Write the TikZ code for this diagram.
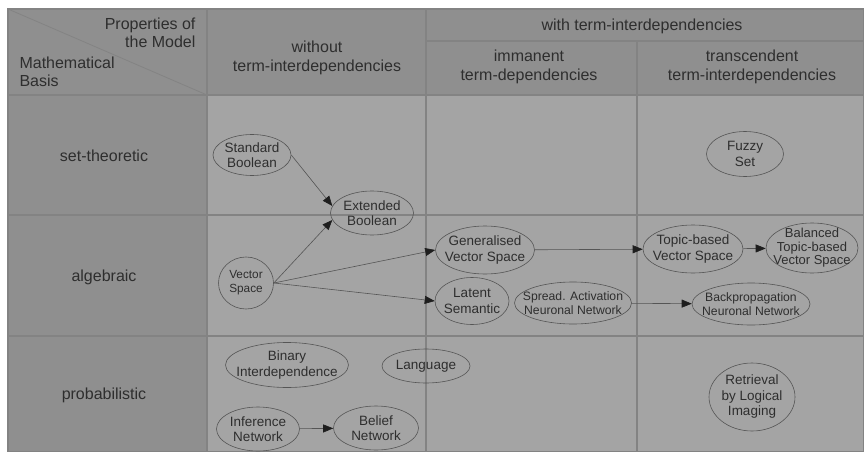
\documentclass[tikz,border=0pt]{standalone}
\usepackage{fontspec}
\setmainfont{Liberation Sans}
\usetikzlibrary{arrows.meta}
\usetikzlibrary{shapes.geometric}
\definecolor{headgray}{HTML}{8F8F8F}
\definecolor{bodygray}{HTML}{A4A4A4}
\definecolor{gridgray}{HTML}{838383}
\definecolor{inkgray}{HTML}{2E2E2E}
\definecolor{rimgray}{HTML}{555555}
\definecolor{tipgray}{HTML}{1E1E1E}
\newcommand{\hdfont}{\fontsize{16}{18.5}\selectfont}
\newcommand{\mdfont}{\fontsize{13.5}{15.5}\selectfont}
\newcommand{\smfont}{\fontsize{12.2}{14}\selectfont}
\newcommand{\vsfont}{\fontsize{11.8}{14}\selectfont}
\newcommand{\balfont}{\fontsize{13}{13.5}\selectfont}

\begin{document}
\begin{tikzpicture}[x=1pt,y=-1pt,
  model/.style 2 args={ellipse,draw=rimgray,line width=0.6pt,text=inkgray,
    font=\mdfont,align=center,inner xsep=-14pt,inner ysep=-9pt,
    minimum width=#1,minimum height=#2},
  headtext/.style={text=inkgray,font=\hdfont,align=center},
  dep/.style={draw=rimgray,line width=0.6pt,
    -{Triangle[length=10pt,width=8pt,color=tipgray]}}]
\useasboundingbox (0,0) rectangle (864,452);
% table
\fill[bodygray] (8,9) rectangle (864,452);
\fill[headgray] (8,9) rectangle (864,95);
\fill[headgray] (8,95) rectangle (207,452);
\draw[gridgray,line width=1.2pt] (8,9) rectangle (864,452);
\draw[gridgray,line width=1.2pt] (8,95) -- (864,95);
\draw[gridgray,line width=1.2pt] (8,215) -- (864,215);
\draw[gridgray,line width=1.2pt] (8,336) -- (864,336);
\draw[gridgray,line width=1.2pt] (207,9) -- (207,452);
\draw[gridgray,line width=1.2pt] (426,9) -- (426,452);
\draw[gridgray,line width=1.2pt] (637,41) -- (637,452);
\draw[gridgray,line width=1.2pt] (426,41) -- (864,41);
\draw[gridgray,line width=0.8pt] (8,9) -- (207,95);
% headings
\node[headtext,align=right,anchor=east] (props) at (199,33) {Properties of\\the Model};
\node[headtext,align=left,anchor=west] (basis) at (16,72) {Mathematical\\Basis};
\node[headtext] (without) at (317,58) {without\\term-interdependencies};
\node[headtext] (with) at (642,26) {with term-interdependencies};
\node[headtext] (imman) at (529,67) {immanent\\term-dependencies};
\node[headtext] (transc) at (752,67) {transcendent\\term-interdependencies};
\node[headtext] (settheo) at (104,156) {set-theoretic};
\node[headtext] (algeb) at (104,277) {algebraic};
\node[headtext] (probab) at (104,395) {probabilistic};
% models
\node[model={78}{41}] (std) at (252,155) {Standard\\Boolean};
\node[model={83}{44}] (ext) at (372,213) {Extended\\Boolean};
\node[model={77}{45}] (fuzzy) at (745,154) {Fuzzy\\Set};
\node[model={55}{52},font=\vsfont] (vs) at (246,283) {Vector\\Space};
\node[model={99}{48}] (gvs) at (485,250) {Generalised\\Vector Space};
\node[model={74}{47}] (lsi) at (472,301) {Latent\\Semantic};
\node[model={117}{42},font=\smfont] (spread) at (573,303) {Spread. Activation\\Neuronal Network};
\node[model={100}{48}] (topic) at (693,249) {Topic-based\\Vector Space};
\node[model={92}{50},font=\balfont] (bal) at (812,248) {Balanced\\Topic-based\\Vector Space};
\node[model={118}{42},font=\smfont] (backprop) at (751,304) {Backpropagation\\Neuronal Network};
\node[model={123}{45}] (bir) at (287,365) {Binary\\Interdependence};
\node[model={88}{34}] (lang) at (426,366) {Language};
\node[model={83}{44}] (infnet) at (258,429) {Inference\\Network};
\node[model={85}{44}] (belief) at (376,428) {Belief\\Network};
\node[model={86}{68}] (rli) at (752,397) {Retrieval\\by Logical\\Imaging};
% dependencies
\draw[dep] (std.east) -- (ext.170);
\draw[dep] (vs.east) -- (ext.190);
\draw[dep] (vs.east) -- (gvs.west);
\draw[dep] (vs.east) -- (lsi.west);
\draw[dep] (gvs) -- (topic);
\draw[dep] (topic) -- (bal);
\draw[dep] (spread) -- (backprop);
\draw[dep] (infnet) -- (belief);
\end{tikzpicture}
\end{document}
